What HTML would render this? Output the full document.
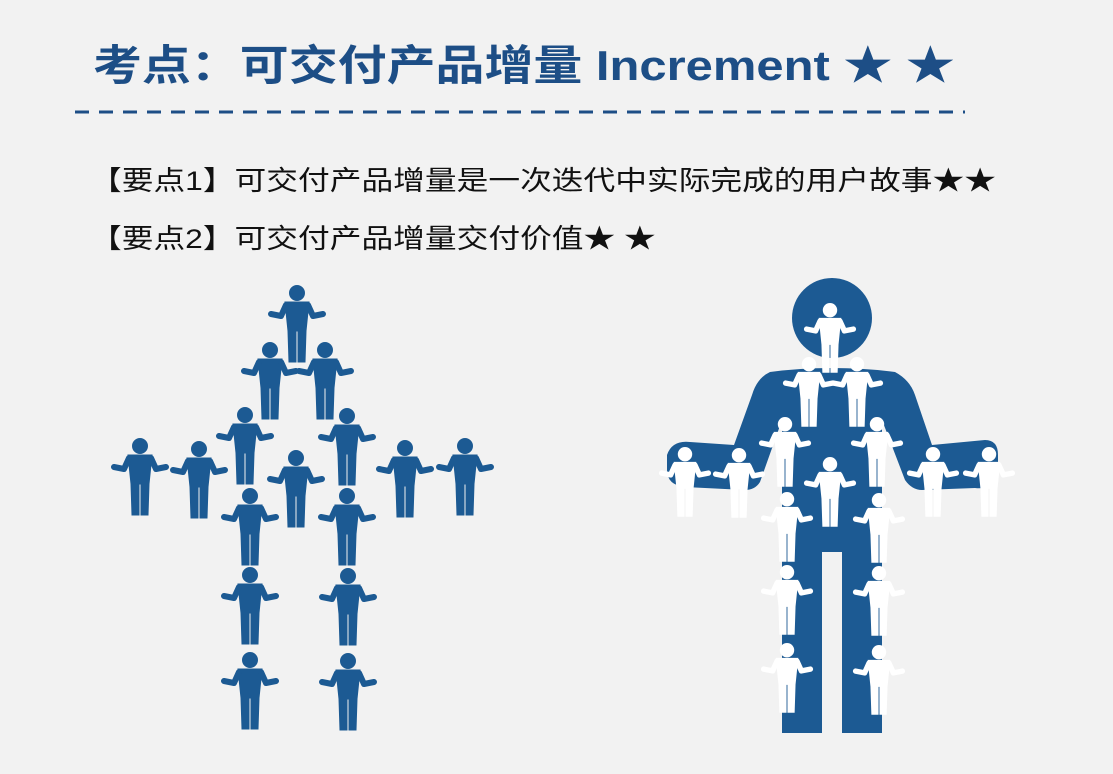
<!DOCTYPE html>
<html><head><meta charset="utf-8"><style>
body{margin:0;width:1113px;height:774px;background:#f2f2f2;overflow:hidden;position:relative;font-family:"Liberation Sans","Noto Sans CJK SC",sans-serif}
.t{position:absolute;left:93px;top:32px;font-size:42px;font-weight:bold;color:#1d4e86;white-space:nowrap;transform:scaleX(1.165);transform-origin:left center}
.p{position:absolute;left:90px;font-size:27px;color:#111;white-space:nowrap;transform:scaleX(1.175);transform-origin:left center}
svg{position:absolute;left:0;top:0}
</style></head><body>
<div class="t">考点：可交付产品增量 Increment ★ ★</div>
<div class="p" style="top:159px">【要点1】可交付产品增量是一次迭代中实际完成的用户故事★★</div>
<div class="p" style="top:217px">【要点2】可交付产品增量交付价值★ ★</div>
<svg width="1113" height="774">
<defs>
<g id="pp">
<circle cx="0" cy="8" r="7.5"/>
<path d="M-12,17 L12,17 L9,46 L8,77 L1,77 L1,46 L-1,46 L-1,77 L-8,77 L-9,46 Z"/>
<path d="M-11,20 L-16,31 L-26,29 M11,20 L16,31 L26,29" fill="none" stroke-width="6" stroke-linecap="round" stroke-linejoin="round"/>
</g>
</defs>
<line x1="75" y1="112" x2="965" y2="112" stroke="#1d4e86" stroke-width="3" stroke-dasharray="14,10"/>
<g id="left" fill="#1c5a93" stroke="#1c5a93"></g>
<g fill="#1c5a93">
<circle cx="832" cy="318" r="40"/>
<path d="M770,372 Q800,368 832,368 Q865,368 895,372 Q910,380 915,395 L932,445 L985,440 Q998,440 998,455 L998,478 Q990,490 975,488 L922,490 Q912,490 905,480 L882,420 L882,733 L842,733 L842,552 L822,552 L822,733 L782,733 L782,420 L760,482 Q755,490 745,490 L685,487 Q667,485 667,470 L667,455 Q672,440 690,442 L734,445 L752,395 Q757,378 770,372 Z"/>
</g>
<g id="right" fill="#fff" stroke="#fff"></g>
</svg>
<script>
const leftPeople=[[297,285],[270,342],[325,342],[245,407],[347,408],[140,438],[199,441],[296,450],[405,440],[465,438],[250,488],[347,488],[250,567],[348,568],[250,652],[348,653]];
const rightPeople=[[830,303],[809,357],[857,357],[785,417],[877,417],[685,447],[739,448],[830,457],[933,447],[989,447],[787,492],[879,493],[787,565],[879,566],[787,643],[879,645]];
function place(id,arr,s){const g=document.getElementById(id);arr.forEach(([x,y],i)=>{const u=document.createElementNS('http://www.w3.org/2000/svg','use');u.setAttribute('href','#pp');u.setAttribute('transform','translate('+x+','+y+') scale('+s+')');


g.appendChild(u);});}
place('left',leftPeople,1);
place('right',rightPeople,0.9);
</script>
</body></html>
